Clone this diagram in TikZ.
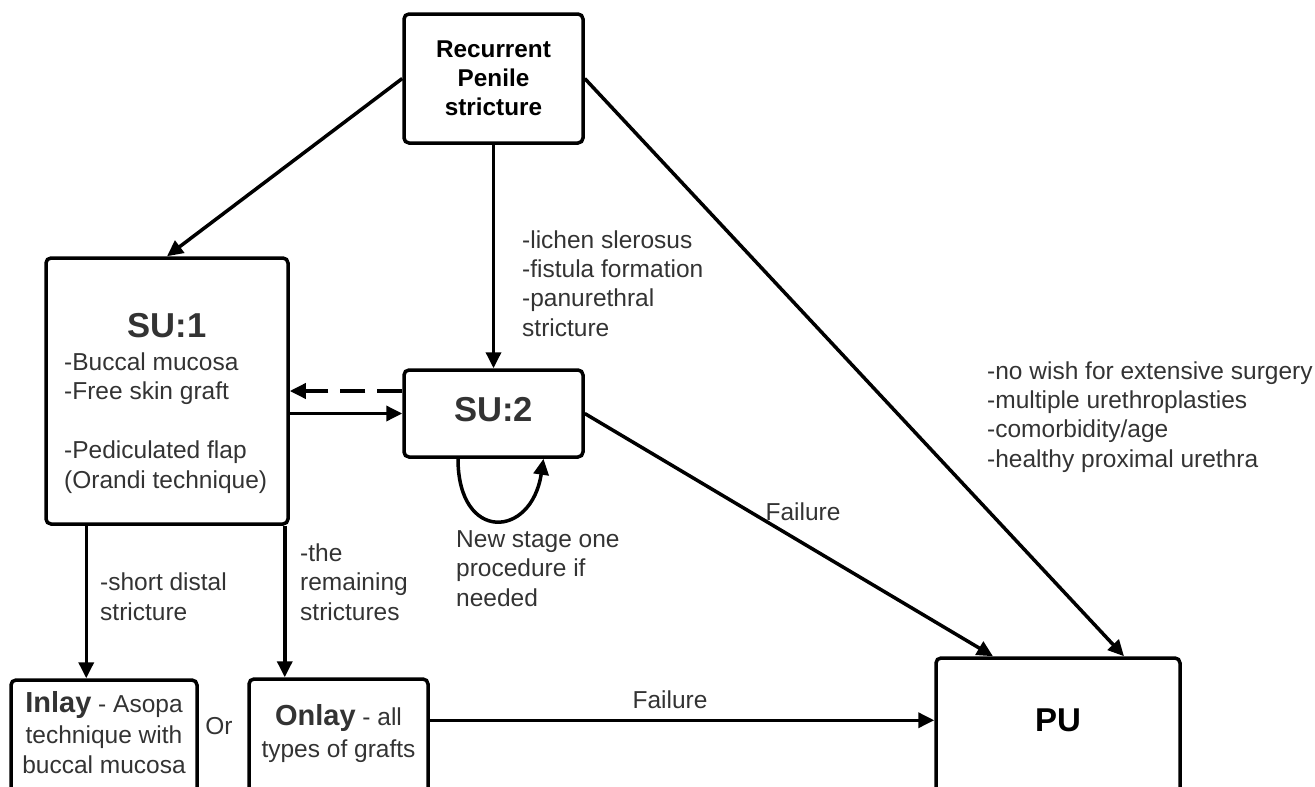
\documentclass[tikz,border=0pt]{standalone}
\usepackage{fontspec}
\setmainfont{Liberation Sans}
\usetikzlibrary{arrows.meta,calc}
\definecolor{txt}{HTML}{333333}
\begin{document}
\begin{tikzpicture}[x=1pt,y=-1pt,
  every node/.style={font=\fontsize{24.5}{29.3}\selectfont},
  box/.style={draw,line width=3.5pt,rounded corners=5pt,inner sep=0pt},
  lbl/.style={text=txt,inner sep=0pt,align=left,anchor=base west},
  ttl/.style={text=txt,inner sep=0pt,anchor=base,font=\bfseries\fontsize{34.6}{40}\selectfont},
  arr/.style={line width=3.5pt,-{Triangle[length=16pt,width=15pt]}}]
\useasboundingbox (0,0) rectangle (1315,787);
\clip (0,0) rectangle (1315,787);

% boxes
\node[box,minimum width=179pt,minimum height=129pt,align=center,
      font=\bfseries\fontsize{24.3}{29}\selectfont] (rec) at (493.5,78.5) {Recurrent\\Penile\\stricture};
\node[box,minimum width=242pt,minimum height=266pt] (su1) at (167,391) {};
\node[box,minimum width=179pt,minimum height=87pt] (su2) at (493.5,413.5) {};
\node[box,minimum width=186pt,minimum height=120pt] (inl) at (104,740) {};
\node[box,minimum width=179pt,minimum height=122pt] (onl) at (338.5,740) {};
\node[box,minimum width=244pt,minimum height=152pt] (pu) at (1058,734) {};

% box texts
\node[ttl] (su1t) at (167,337) {SU:1};
\node[lbl,font=\fontsize{24.5}{29.5}\selectfont] (su1l) at (64,488) {-Buccal mucosa\\-Free skin graft\\[29.5pt]-Pediculated flap\\(Orandi technique)};
\node[ttl] (su2t) at (493.5,421) {SU:2};
\node[inner sep=0pt,anchor=base,font=\bfseries\fontsize{33}{40}\selectfont] (put) at (1058,731) {PU};
\node[text=txt,inner sep=0pt,anchor=base,align=center] (inlt) at (104,773)
  {\textbf{\fontsize{29}{32}\selectfont Inlay} - Asopa\\[2pt]technique with\\buccal mucosa};
\node[text=txt,inner sep=0pt,anchor=base,align=center] (onlt) at (338.5,757)
  {\textbf{\fontsize{29}{32}\selectfont Onlay} - all\\[2pt]types of grafts};
\node[text=txt,inner sep=0pt,anchor=base] (or) at (219,734) {Or};

% labels
\node[lbl] (l1) at (522,336) {-lichen slerosus\\-fistula formation\\-panurethral\\stricture};
\node[lbl] (l2) at (987,467) {-no wish for extensive surgery\\-multiple urethroplasties\\-comorbidity/age\\-healthy proximal urethra};
\node[text=txt,inner sep=0pt,anchor=base] (f1) at (803,520) {Failure};
\node[text=txt,inner sep=0pt,anchor=base] (f2) at (670,708) {Failure};
\node[lbl] (l3) at (100,620) {-short distal\\stricture};
\node[lbl] (l4) at (300,620) {-the\\remaining\\strictures};
\node[lbl] (l5) at (456,606) {New stage one\\procedure if\\needed};

% connectors
\draw[arr] (rec.west) -- (su1.north);
\draw[arr] (rec.south) -- (su2.north);
\draw[arr] (rec.east) -- ($(pu.north)+(66,0)$);
\draw[arr] (su2.east) -- ($(pu.north)+(-65,0)$);
\draw[arr] (su1.east |- su2.west) -- (su2.west);
\draw[arr,dash pattern=on 25pt off 12pt] (su2.west |- su1.east) -- (su1.east);
\draw[arr] ($(su2.south)+(-35.5,0)$) .. controls +(0,84) and +(-12,80) .. ($(su2.south)+(50,0)$);
\coordinate (a1) at ($(su1.south west)+(42,0)$);
\coordinate (a2) at ($(su1.south east)+(-5,0)$);
\coordinate (a3) at ($(onl.north east)+(0,43)$);
\draw[arr] (a1) -- (a1 |- inl.north);
\draw[arr] (a2) -- (a2 |- onl.north);
\draw[arr] (a3) -- (a3 -| pu.west);
\end{tikzpicture}
\end{document}
